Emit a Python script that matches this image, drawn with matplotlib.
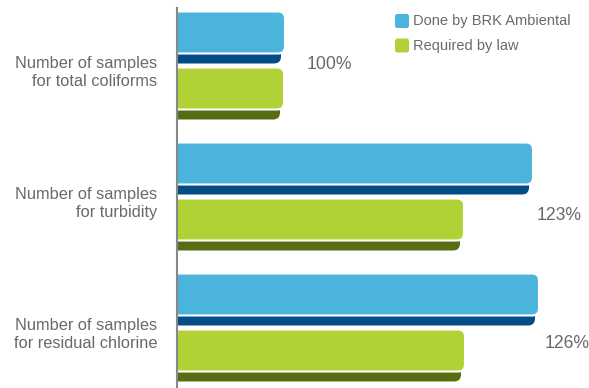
import matplotlib.pyplot as plt
from matplotlib.patches import FancyBboxPatch

plt.rcParams['font.family'] = ['Liberation Sans', 'DejaVu Sans']

categories = ['Number of samples\nfor total coliforms',
              'Number of samples\nfor turbidity',
              'Number of samples\nfor residual chlorine']
done = [108, 356, 362]
required = [107, 287, 288]
pct_labels = ['100%', '123%', '126%']
legend_labels = ['Done by BRK Ambiental', 'Required by law']

blue, blue_dark = '#4bb4dd', '#024c87'
green, green_dark = '#b1d236', '#566d14'
grey = '#696969'

W, H = 589, 388
fig = plt.figure(figsize=(W / 100, H / 100), dpi=100)
ax = fig.add_axes([177 / W, 0, (W - 177) / W, 380 / H])

pitch = 131.0          # pixels per category
ax.set_xlim(0, W - 177)
ax.set_ylim(-52.5 / pitch + 380 / pitch, -52.5 / pitch)
ax.axis('off')

bar_h = 42 / pitch
off = 28 / pitch
shadow = 10 / pitch
r = 7
asp = 1 / pitch


def rbar(x1, yc, color, edge=None, lw=0, z=2):
    p = FancyBboxPatch((-20, yc - bar_h / 2), x1 + 20, bar_h,
                       boxstyle='round,pad=0,rounding_size=%d' % r,
                       mutation_aspect=asp, fc=color,
                       ec=edge if edge else 'none', lw=lw, zorder=z)
    ax.add_patch(p)


for i in range(len(categories)):
    for val, yc, c, cd in [(done[i], i - off, blue, blue_dark),
                           (required[i], i + off, green, green_dark)]:
        rbar(val - 4, yc + shadow, cd, z=1)
        rbar(val, yc, c, edge='white', lw=1.5, z=2)
    ax.text(-20, i + 0.09, categories[i], ha='right', va='center',
            fontsize=11.8, color=grey, linespacing=1.25, clip_on=False)

pct_x = [130, 360, 368]
pct_y = [0.03, 1.18, 2.16]
for x, y, t in zip(pct_x, pct_y, pct_labels):
    ax.text(x, y, t, ha='left', va='center', fontsize=12.7, color=grey)

# axis line
ax.plot([0, 0], [-52.5 / pitch, 3], color='#888888', lw=1.5, zorder=3,
        clip_on=False)

# legend
for k, (lab, c) in enumerate(zip(legend_labels, [blue, green])):
    ytop = 14 + 24.5 * k
    sq = FancyBboxPatch((395 / W, 1 - (ytop + 14) / H), 14 / W, 14 / H,
                        boxstyle='round,pad=0,rounding_size=0.004',
                        mutation_aspect=W / H, fc=c, ec='none',
                        transform=fig.transFigure)
    fig.patches.append(sq)
    fig.text(413 / W, 1 - (ytop + 7.5) / H, lab, ha='left', va='center',
             fontsize=10.5, color=grey)

fig.savefig('out.png', dpi=100)
